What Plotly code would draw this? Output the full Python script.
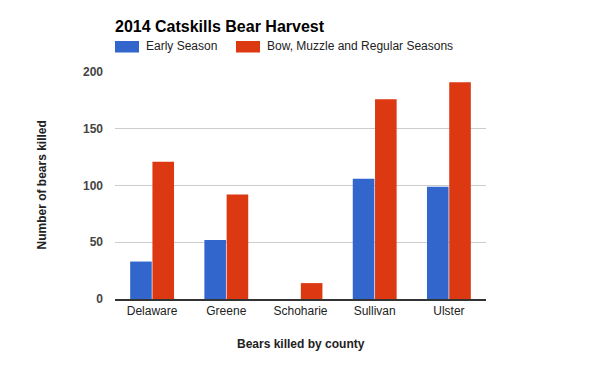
import plotly.graph_objects as go

counties = ["Delaware", "Greene", "Schoharie", "Sullivan", "Ulster"]
early_season = [33, 52, 0, 106, 99]
bow_muzzle_regular = [121, 92, 14, 176, 191]
series_names = ["Early Season", "Bow, Muzzle and Regular Seasons"]
series_colors = ["#3366cc", "#dc3912"]
y_ticks = [0, 50, 100, 150, 200]

FONT = "Liberation Sans, Arial, sans-serif"
W, H = 600, 371
L, R, T, B = 115, 114, 72, 72
pw, ph = W - L - R, H - T - B

def px(x):
    return (x - L) / pw

def py(y):
    return (H - B - y) / ph

fig = go.Figure()
for name, vals, col in zip(series_names, [early_season, bow_muzzle_regular], series_colors):
    fig.add_trace(go.Bar(x=counties, y=vals, name=name, marker=dict(color=col, line=dict(width=0)),
                         showlegend=False))

# custom legend
shapes = []
annotations = []
legend_x = [115, 236]
for i, (name, col) in enumerate(zip(series_names, series_colors)):
    x0 = legend_x[i]
    shapes.append(dict(type="rect", xref="paper", yref="paper", x0=px(x0), x1=px(x0 + 24),
                       y0=py(52.5), y1=py(41), fillcolor=col, line=dict(width=0)))
    annotations.append(dict(text=name, xref="paper", yref="paper", x=px(x0 + 29), y=py(46.5),
                            xanchor="left", yanchor="middle", showarrow=False,
                            font=dict(family=FONT, size=12, color="#222222")))

annotations.append(dict(text="<b>Bears killed by county</b>", xref="paper", yref="paper",
                        x=0.5, y=py(344), xanchor="center", yanchor="middle", showarrow=False,
                        font=dict(family=FONT, size=12, color="#222222")))
annotations.append(dict(text="<b>Number of bears killed</b>", xref="paper", yref="paper",
                        x=px(41), y=0.5, xanchor="center", yanchor="middle", showarrow=False,
                        textangle=-90, font=dict(family=FONT, size=12, color="#222222")))

fig.update_layout(
    width=W, height=H,
    margin=dict(l=L, r=R, t=T, b=B, autoexpand=False),
    paper_bgcolor="white", plot_bgcolor="white",
    title=dict(text="<b>2014 Catskills Bear Harvest</b>", x=0, xref="paper", xanchor="left",
               y=1 - 26.2 / H, yref="container", yanchor="middle",
               font=dict(family=FONT, size=16, color="#000000")),
    barmode="group", bargap=0.4, bargroupgap=0.03,
    shapes=shapes, annotations=annotations,
    xaxis=dict(showgrid=False, showline=True, linecolor="#333333", linewidth=1.5,
               ticks="", tickfont=dict(family=FONT, size=12, color="#222222"),
               fixedrange=True),
    yaxis=dict(range=[0, 200], tickvals=y_ticks, showgrid=True, gridcolor="#cccccc", gridwidth=1,
               zeroline=False, showline=False, ticks="", ticklabelstandoff=11,
               tickfont=dict(family=FONT, size=12, color="#444444", weight="bold"),
               fixedrange=True),
    showlegend=False,
)

fig.write_html("out.html", config={"displayModeBar": False},
               post_script="document.body.style.margin='0';")
